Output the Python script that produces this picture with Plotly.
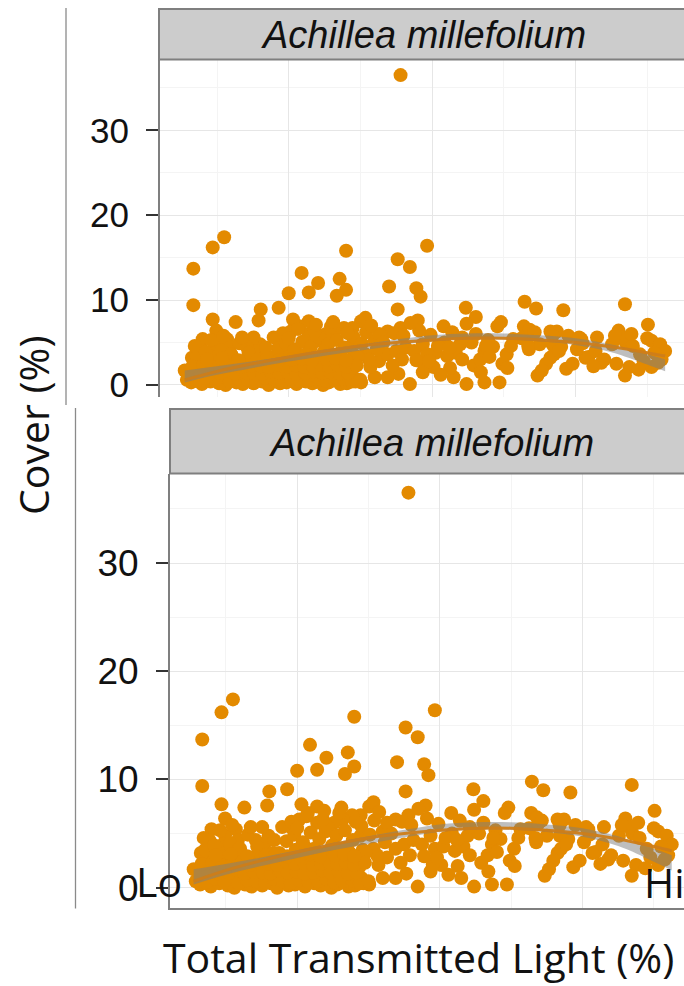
import plotly.graph_objects as go

# ---- data ----
light = [
    35.6, 11.0, 9.4, 6.7, 6.7, 28.0, 39.3, 35.2, 36.9, 21.8,
    24.1, 27.1, 34.0, 37.8, 38.4, 28.0, 26.7, 22.8, 20.0, 52.9,
    54.5, 58.3, 66.9, 35.2, 44.7, 16.1, 18.6, 9.4, 9.9, 12.6,
    15.8, 46.1, 49.6, 49.1, 70.1, 38.0, 41.6, 44.8, 66.0, 52.8,
    56.5, 57.4, 60.8, 70.6, 71.8, 72.5, 67.0, 65.1, 67.5, 70.6,
    66.9, 65.7, 63.6, 61.4, 58.7, 59.6, 56.5, 55.9, 54.7, 55.3,
    51.3, 50.4, 49.8, 49.4, 47.3, 44.8, 43.0, 45.8, 46.7, 47.3,
    43.3, 42.1, 43.9, 46.1, 41.7, 40.2, 38.7, 36.9, 35.3, 33.8,
    32.0, 30.1, 28.6, 31.4, 32.6, 33.8, 35.0, 36.3, 37.5, 38.7,
    39.3, 30.7, 29.5, 28.9, 32.0, 33.8, 35.6, 34.7, 32.6, 30.1,
    30.7, 28.9, 27.7, 26.4, 25.2, 24.0, 22.8, 22.8, 21.5, 20.6,
    20.3, 19.1, 17.9, 16.0, 15.1, 15.4, 16.6, 14.2, 11.4, 11.7,
    9.9, 9.6, 8.0, 7.7, 6.5, 5.5, 6.8, 8.7, 10.5, 12.3,
    13.9,
    42.5, 44.2, 46.8, 48.5, 51.0, 52.5, 53.5, 55.0, 56.8, 58.0,
    59.0, 60.2, 61.8, 62.8, 64.0, 66.5, 68.0, 69.0, 70.0, 71.0,
    72.0, 71.5, 69.5, 68.8, 45.5, 47.8, 50.5, 53.8, 57.0, 61.0,
    63.0, 65.5, 67.8, 42.8, 40.5, 39.8, 38.2, 37.0, 36.0, 35.8,
    34.5, 33.2, 32.3, 31.2, 39.0, 37.8, 40.8, 53.4, 56.8, 57.7,
    60.5, 44.2, 42.4, 39.6, 53.6, 54.3, 47.5, 48.0, 41.2, 62.5,
    6.4, 7.9, 9.1, 10.3, 11.2, 12.7, 13.6, 15.1, 16.3, 17.2,
    18.8, 19.7, 21.1, 22.4, 23.3, 24.8, 25.6, 27.2, 28.1, 29.3,
    6.9, 8.3, 9.6, 10.8, 12.1, 13.2, 14.5, 15.7, 16.9, 18.1,
    19.3, 20.5, 21.7, 23.0, 24.2, 25.3, 26.6, 27.8, 29.0,
    7.3, 8.8, 10.0, 11.5, 12.9, 14.1, 15.4, 16.6, 17.8, 19.0,
    20.2, 21.4, 22.6, 23.9, 25.0, 26.2, 27.5, 28.7,
    8.0, 9.4, 11.0, 12.4, 13.7, 15.0, 16.8, 18.3, 19.6, 20.9,
    22.0, 23.5, 24.6, 25.9, 27.1, 28.4,
    7.1, 9.9, 12.0, 14.6, 17.5, 19.8, 21.2, 22.8, 24.4, 26.0,
    27.4, 29.2,
    18.5, 19.6, 20.8, 21.9, 23.1, 24.3, 25.5, 26.7, 27.8, 29.0,
    30.2, 19.2, 21.3, 23.6, 25.9, 28.2, 24.9, 22.4, 27.0, 29.6,
    30.8, 31.5, 26.2, 23.8, 20.0,
    6.9, 8.4, 9.2, 10.6, 11.9, 13.1, 14.4, 16.8, 13.5, 10.9,
    5.8, 7.2, 8.5, 9.8, 11.8, 13.0, 14.3, 15.5, 16.7, 18.0,
    19.1, 20.3, 21.6, 22.9, 24.1, 25.2, 26.4, 27.7, 28.8, 30.0,
    6.2, 7.6, 9.0, 10.4, 11.7, 12.6, 13.9, 15.2, 16.3, 17.5,
    18.7, 19.9, 21.0, 22.3, 23.5, 24.7, 25.8, 27.1, 28.3,
    6.6, 8.1, 9.5, 10.9, 12.3, 13.4, 14.8, 16.1, 17.2, 18.5,
    19.7, 21.0, 22.2, 23.4, 24.5, 25.6, 26.8, 28.0, 29.5,
    8.6, 10.7, 13.0, 15.6, 17.0, 18.6, 20.4, 21.8, 23.2, 25.3,
    26.6, 28.0,
]
cover = [
    36.5, 17.4, 16.2, 13.7, 9.4, 15.8, 16.4, 14.8, 13.9, 13.2,
    12.0, 12.5, 11.6, 11.4, 10.4, 11.2, 10.5, 10.9, 10.8, 9.8,
    9.0, 8.8, 9.5, 8.9, 9.1, 8.9, 9.1, 7.7, 6.4, 7.4,
    7.6, 8.0, 7.4, 6.9, 7.1, 7.6, 6.9, 7.2, 6.4, 6.9,
    6.3, 6.3, 5.4, 5.2, 4.8, 4.0, 5.0, 4.8, 2.1, 2.1,
    1.1, 2.5, 2.6, 3.2, 1.9, 2.5, 3.2, 2.5, 1.1, 1.7,
    5.4, 3.6, 2.5, 0.3, 0.3, 0.1, 0.9, 2.3, 3.0, 4.0,
    3.8, 3.4, 4.8, 6.0, 5.0, 2.1, 1.5, 0.1, 1.3, 0.9,
    0.9, 0.3, 0.9, 2.1, 2.8, 3.6, 4.0, 4.4, 4.0, 4.8,
    3.6, 3.6, 3.2, 4.8, 5.2, 6.3, 6.7, 6.1, 6.0, 7.5,
    7.9, 6.7, 6.7, 6.3, 6.0, 5.2, 6.0, 7.5, 6.9, 7.7,
    6.3, 5.6, 5.6, 4.8, 5.6, 4.0, 3.2, 4.4, 5.4, 4.4,
    4.8, 4.0, 5.4, 4.4, 3.2, 1.7, 0.9, 2.5, 2.8, 3.0,
    2.8,
    2.0, 3.0, 1.5, 4.5, 4.6, 5.5, 4.2, 4.8, 5.8, 4.5,
    5.8, 4.2, 3.3, 4.0, 3.0, 5.6, 4.6, 3.6, 5.5, 3.8,
    3.0, 2.6, 2.8, 1.8, 5.0, 5.3, 2.0, 5.9, 3.6, 4.9,
    5.6, 5.8, 6.0, 6.2, 3.8, 5.9, 6.4, 7.3, 5.8, 3.0,
    2.3, 5.0, 4.2, 3.0, 2.2, 2.9, 4.6, 4.6, 4.8, 4.0,
    5.6, 5.6, 4.4, 2.8, 6.5, 6.2, 4.6, 3.3, 1.2, 2.2,
    0.3, 0.1, 0.4, 0.2, 0.0, 0.3, 0.1, 0.2, 0.4, 0.0,
    0.2, 0.3, 0.1, 0.4, 0.2, 0.0, 0.3, 0.1, 0.2, 0.4,
    1.1, 0.9, 1.2, 1.0, 0.8, 1.1, 1.3, 0.9, 1.0, 1.2,
    0.8, 1.1, 0.9, 1.3, 1.0, 0.8, 1.2, 1.0, 0.9,
    1.9, 1.7, 2.0, 1.8, 1.6, 1.9, 2.1, 1.7, 1.8, 2.0,
    1.6, 1.9, 2.2, 1.7, 1.8, 2.0, 1.6, 1.9,
    2.7, 2.5, 2.8, 2.6, 2.4, 2.7, 2.9, 2.5, 2.6, 2.8,
    2.4, 2.7, 2.6, 2.9, 2.5, 2.7,
    3.5, 3.3, 3.6, 3.4, 3.2, 3.5, 3.7, 3.3, 3.4, 3.6,
    3.2, 3.5,
    4.3, 4.9, 4.2, 5.1, 4.5, 5.6, 4.8, 5.3, 4.4, 5.7,
    4.9, 6.1, 6.6, 6.3, 6.9, 6.1, 3.9, 3.6, 3.7, 3.3,
    6.2, 7.0, 7.4, 7.1, 5.5,
    4.6, 3.9, 5.3, 4.1, 3.6, 4.9, 3.8, 4.4, 5.6, 5.8,
    0.6, 0.5, 0.8, 0.6, 0.4, 0.7, 0.6, 0.5, 0.8, 0.6,
    0.4, 0.7, 0.5, 0.6, 0.8, 0.5, 0.6, 0.7, 0.4, 0.6,
    1.4, 1.5, 1.3, 1.4, 1.6, 1.3, 1.5, 1.4, 1.3, 1.6,
    1.4, 1.5, 1.3, 1.4, 1.6, 1.4, 1.5, 1.3, 1.4,
    2.2, 2.3, 2.1, 2.2, 2.4, 2.1, 2.3, 2.2, 2.1, 2.4,
    2.2, 2.3, 2.1, 2.2, 2.4, 2.2, 2.3, 2.1, 2.3,
    3.0, 3.1, 2.9, 3.0, 3.1, 2.9, 3.0, 3.1, 2.9, 3.0,
    3.1, 2.9,
]

smooth_x = [5.5, 10, 15, 20, 25, 30, 35, 40, 45, 50, 55, 60, 65, 70, 72.5]
fit_line = [0.6, 1.6, 2.5, 3.3, 4.0, 4.6, 5.0, 5.3, 5.5, 5.5, 5.3, 5.0, 4.5, 3.8, 3.4]
band_lo = [0.3, 1.2, 2.0, 2.75, 3.45, 4.05, 4.65, 5.15, 5.35, 5.35, 5.15, 4.7, 3.85, 2.4, 1.6]
band_hi = [1.7, 2.2, 2.8, 3.45, 4.15, 4.75, 5.35, 5.85, 6.05, 6.05, 5.85, 5.5, 4.75, 3.6, 3.0]

y_ticks = [0, 10, 20, 30]
strip_label = "Achillea millefolium"
x_title = "Total Transmitted Light (%)"
y_title = "Cover (%)"

W, H = 684, 986
ORANGE = "#E38A00"


def px(x):
    return x / W


def py(y):
    return 1 - y / H


fig = go.Figure()

for xa, ya in [("x", "y"), ("x2", "y2")]:
    fig.add_trace(go.Scatter(x=light, y=cover, mode="markers", xaxis=xa, yaxis=ya,
                             marker=dict(color=ORANGE, size=14, line=dict(width=0)),
                             showlegend=False, hoverinfo="skip"))
    fig.add_trace(go.Scatter(x=smooth_x, y=band_lo, mode="lines", xaxis=xa, yaxis=ya,
                             line=dict(width=0, shape="spline"), showlegend=False,
                             hoverinfo="skip"))
    fig.add_trace(go.Scatter(x=smooth_x, y=band_hi, mode="lines", xaxis=xa, yaxis=ya,
                             line=dict(width=0, shape="spline"), fill="tonexty",
                             fillcolor="rgba(125,125,125,0.5)", showlegend=False,
                             hoverinfo="skip"))
    fig.add_trace(go.Scatter(x=smooth_x, y=fit_line, mode="lines", xaxis=xa, yaxis=ya,
                             line=dict(width=3, color="rgba(205,125,25,0.95)", shape="spline"),
                             showlegend=False, hoverinfo="skip"))

grid = dict(showgrid=True, gridcolor="#E6E6E6", gridwidth=1.3, zeroline=False)
minor = dict(showgrid=True, gridcolor="#F4F4F4", gridwidth=1, ticks="")

fig.update_layout(
    width=W, height=H, margin=dict(l=0, r=0, t=0, b=0),
    paper_bgcolor="white", plot_bgcolor="white", showlegend=False,
    xaxis=dict(domain=[px(160), 1], range=[2.05, 75.13], tick0=0, dtick=20,
               minor=dict(dtick=10, **minor), showticklabels=False, ticks="",
               showline=False, **grid),
    yaxis=dict(domain=[py(400), py(60)], range=[-1.44, 38.33],
               tickvals=y_ticks, ticktext=[str(v) for v in y_ticks],
               minor=dict(dtick=5, tick0=0, **minor),
               ticks="outside", ticklen=12, tickwidth=2, tickcolor="#333333",
               ticklabelstandoff=10,
               showline=True, linecolor="#7F7F7F", linewidth=2,
               tickfont=dict(family="Liberation Sans", size=35, color="#111111"),
               **grid),
    xaxis2=dict(domain=[px(170), 1], range=[2.18, 74.22], tick0=0, dtick=20,
                minor=dict(dtick=10, **minor), showticklabels=False, ticks="",
                showline=True, linecolor="#7F7F7F", linewidth=2, anchor="y2",
                **grid),
    yaxis2=dict(domain=[py(914), py(477)], range=[-1.83, 38.26], anchor="x2",
                tickvals=y_ticks, ticktext=[str(v) for v in y_ticks],
                minor=dict(dtick=5, tick0=0, **minor),
                ticks="outside", ticklen=12, tickwidth=2, tickcolor="#333333",
                ticklabelstandoff=10,
                showline=True, linecolor="#7F7F7F", linewidth=2,
                tickfont=dict(family="Liberation Sans", size=37, color="#111111"),
                **grid),
)

shapes = [
    dict(type="rect", xref="paper", yref="paper", x0=px(159), x1=px(W + 4),
         y0=py(60), y1=py(9), fillcolor="#CCCCCC", line=dict(color="#7F7F7F", width=2)),
    dict(type="rect", xref="paper", yref="paper", x0=px(170), x1=px(W + 4),
         y0=py(477), y1=py(412), fillcolor="#CCCCCC", line=dict(color="#7F7F7F", width=2)),
    dict(type="line", xref="paper", yref="paper", x0=px(66), x1=px(66),
         y0=py(8), y1=py(408), line=dict(color="#8A8A8A", width=1.3)),
    dict(type="line", xref="paper", yref="paper", x0=px(75.5), x1=px(75.5),
         y0=py(411), y1=py(915), line=dict(color="#8A8A8A", width=1.3)),
]
fig.update_layout(shapes=shapes)

title_font = dict(family="Open Sans", size=41, color="#111111")
ann = [
    dict(text=strip_label, x=px(423), y=py(35), xref="paper", yref="paper",
         showarrow=False, xanchor="center", yanchor="middle",
         font=dict(family="Liberation Sans", size=38, color="#111111", style="italic")),
    dict(text=strip_label, x=px(431), y=py(446), xref="paper", yref="paper",
         showarrow=False, xanchor="center", yanchor="middle",
         font=dict(family="Liberation Sans", size=38, color="#111111", style="italic")),
    dict(text=y_title, x=px(33), y=py(429), xref="paper", yref="paper",
         showarrow=False, xanchor="center", yanchor="middle", textangle=-90,
         font=title_font),
    dict(text=x_title, x=px(418), y=py(964), xref="paper", yref="paper",
         showarrow=False, xanchor="center", yanchor="middle", font=title_font),
    dict(text="Lo", x=px(134), y=py(887), xref="paper", yref="paper",
         showarrow=False, xanchor="left", yanchor="middle", font=title_font),
    dict(text="Hi", x=px(642), y=py(888), xref="paper", yref="paper",
         showarrow=False, xanchor="left", yanchor="middle", font=title_font),
]
fig.update_layout(annotations=ann)

fig.write_html("out.html")
